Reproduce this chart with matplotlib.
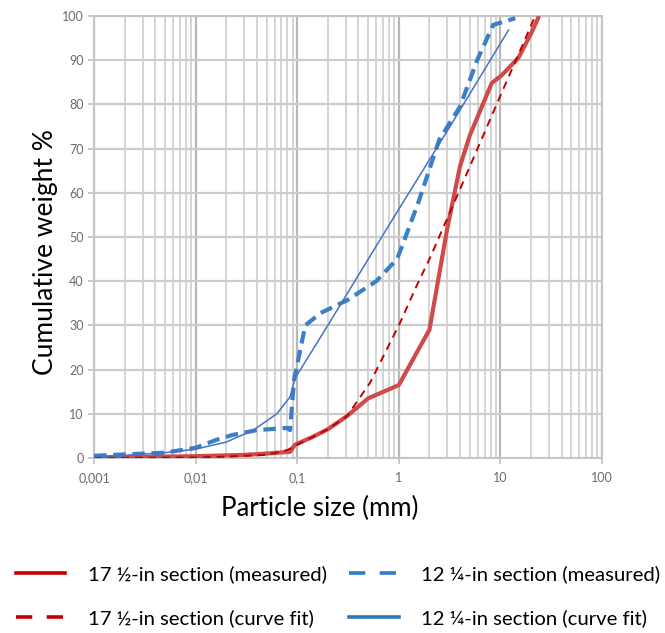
import numpy as np
import matplotlib.pyplot as plt
from matplotlib.lines import Line2D
from matplotlib.ticker import FixedLocator, LogLocator, NullFormatter

plt.rcParams['font.family'] = ['Lato', 'DejaVu Sans']

# 17 1/2-in section, measured
red_meas_x = [0.001, 0.01, 0.03, 0.05, 0.085, 0.095, 0.14, 0.2, 0.31, 0.5, 1.0, 1.6, 2.0, 3.0, 4.0, 5.0, 8.2, 10.3, 15, 20, 24]
red_meas_y = [0.1, 0.4, 0.7, 1.0, 1.4, 3.0, 4.7, 6.5, 9.5, 13.5, 16.5, 25, 29, 52, 66, 73, 84.8, 86.6, 90.5, 96, 100]

# 17 1/2-in section, curve fit
red_fit_x = [0.001, 0.01, 0.02, 0.05, 0.08, 0.1, 0.2, 0.31, 0.52, 1.0, 1.5, 2.0, 3.7, 10, 22]
red_fit_y = [0.0, 0.1, 0.3, 0.7, 1.8, 3.0, 6.5, 9.5, 17, 30, 39, 45, 59, 82, 100]

# 12 1/4-in section, measured
blue_meas_x = [0.001, 0.005, 0.01, 0.016, 0.023, 0.04, 0.079, 0.085, 0.093, 0.12, 0.17, 0.31, 0.6, 0.96, 1.08, 1.55, 2.5, 4.0, 5.9, 8.5, 14]
blue_meas_y = [0.5, 1.2, 2.3, 4.1, 5.2, 6.3, 6.8, 6.3, 17.6, 30, 32.8, 35.7, 40, 45, 48, 57.7, 72, 79.5, 90, 98, 99.5]

# 12 1/4-in section, curve fit
blue_fit_x = [0.001, 0.002, 0.005, 0.01, 0.02, 0.037, 0.063, 0.085, 0.095, 0.2, 0.5, 1.0, 3.0, 12]
blue_fit_y = [0.3, 0.6, 1.2, 2.0, 3.6, 6.3, 10, 13.8, 18.0, 30, 45, 56.3, 74, 96.8]

xticks = [0.001, 0.01, 0.1, 1, 10, 100]
xtick_labels = ['0,001', '0,01', '0,1', '1', '10', '100']
yticks = list(range(0, 101, 10))

fig = plt.figure(figsize=(6.65, 6.33), dpi=100)
ax = fig.add_axes([0.1414, 0.2765, 0.7639, 0.6982])

ax.plot(red_meas_x, red_meas_y, color='#cf4a4a', lw=3.0, solid_capstyle='butt', zorder=3)
ax.plot(red_fit_x, red_fit_y, color='#c00000', lw=1.4, dashes=(4, 3), zorder=4)
ax.plot(blue_meas_x, blue_meas_y, color='#3b7fc8', lw=3.0, dashes=(3, 1.6), zorder=3)
ax.plot(blue_fit_x, blue_fit_y, color='#4472c4', lw=1.1, zorder=4)

ax.set_xscale('log')
ax.set_xlim(0.001, 100)
ax.set_ylim(0, 100)
ax.xaxis.set_major_locator(FixedLocator(xticks))
ax.set_xticklabels(xtick_labels)
ax.xaxis.set_minor_locator(LogLocator(base=10, subs=np.arange(2, 10)))
ax.xaxis.set_minor_formatter(NullFormatter())
ax.set_yticks(yticks)

ax.grid(which='major', axis='x', color='#b8b8b8', lw=1.6)
ax.grid(which='minor', axis='x', color='#d4d4d4', lw=1.4)
ax.grid(which='major', axis='y', color='#cccccc', lw=1.6)
ax.set_axisbelow(True)

for s in ax.spines.values():
    s.set_color('#c4c4c4')
    s.set_linewidth(1.4)

ax.tick_params(axis='both', which='major', colors='#bfbfbf', labelcolor='#6b6b6b',
               labelsize=9, length=4, width=1.2)
ax.tick_params(axis='x', which='minor', length=0)
ax.tick_params(axis='x', pad=6)

ax.set_ylabel('Cumulative weight %', fontsize=19)
ax.yaxis.set_label_coords(-0.071, 0.466)
ax.set_xlabel('Particle size (mm)', fontsize=18.5)
ax.xaxis.set_label_coords(0.445, -0.086)

handles = [
    Line2D([], [], color='#c00000', lw=2.6),
    Line2D([], [], color='#c00000', lw=2.6, dashes=(4.5, 4)),
    Line2D([], [], color='#2e7cc8', lw=2.6, dashes=(4.5, 4)),
    Line2D([], [], color='#2e75b6', lw=2.6),
]
labels = ['17 ½-in section (measured)', '17 ½-in section (curve fit)',
          '12 ¼-in section (measured)', '12 ¼-in section (curve fit)']
fig.legend(handles, labels, loc='center', bbox_to_anchor=(0.508, 0.0585), ncol=2,
           frameon=False, fontsize=14.6, handlelength=2.45, handletextpad=1.1,
           columnspacing=1.1, labelspacing=1.3, borderpad=0)

fig.savefig('out.png', dpi=100)
